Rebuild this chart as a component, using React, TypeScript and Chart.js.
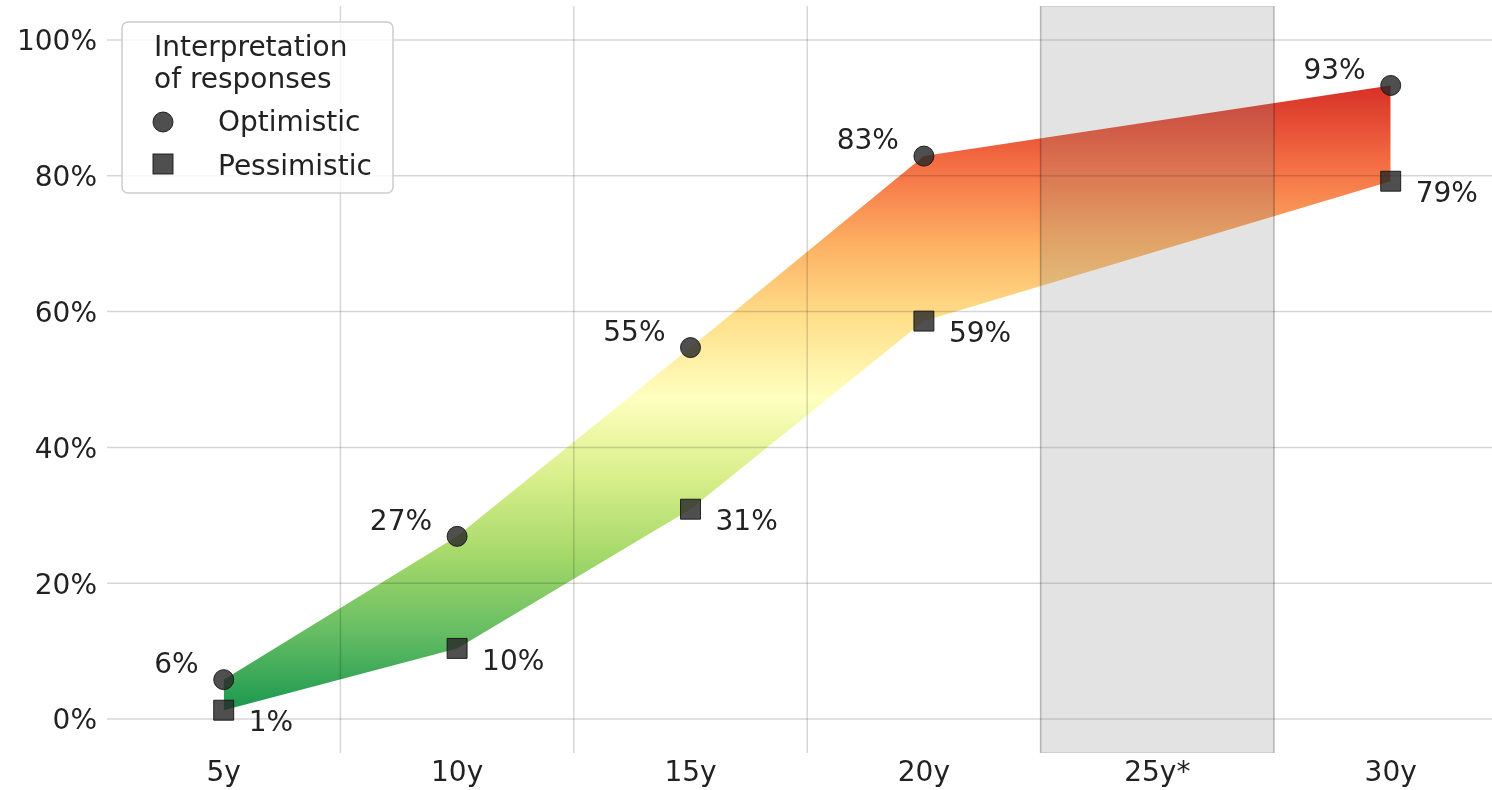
import React, { useEffect, useRef } from 'react';
import { Chart, registerables } from 'chart.js';

Chart.register(...registerables);

// ---- data ----
const categories = ['5y', '10y', '15y', '20y', '25y*', '30y'];
const pointCategories = ['5y', '10y', '15y', '20y', '30y']; // 25y* has no survey value
const optimistic = [5.8, 26.9, 54.7, 82.9, 93.3];
const pessimistic = [1.3, 10.4, 30.9, 58.6, 79.2];
const yTickValues = [0, 20, 40, 60, 80, 100];
const shadedCategory = '25y*';
const seriesNames = ['Optimistic', 'Pessimistic'];
const legendTitle = ['Interpretation', 'of responses'];
const gradientColors = ['#1a9850', '#66bd63', '#a6d96a', '#d9ef8b', '#ffffbf', '#fee08b', '#fdae61', '#f46d43', '#d73027'];

const FONT = '"DejaVu Sans", "Liberation Sans", sans-serif';
const TEXT = '#222222';
const MARK = 'rgba(40,40,40,0.82)';
const MARK_EDGE = 'rgba(20,20,20,0.9)';

const idx = (c: string) => categories.indexOf(c);

const decorPlugin = {
  id: 'decor',
  beforeDatasetsDraw(chart: any) {
    const { ctx, chartArea: ca, scales } = chart;
    const x = scales.x;
    const y = scales.y;
    ctx.save();
    ctx.beginPath();
    ctx.rect(ca.left, ca.top, ca.right - ca.left, ca.bottom - ca.top);
    ctx.clip();
    // grid lines (drawn above fill, like matplotlib)
    ctx.strokeStyle = 'rgba(0,0,0,0.16)';
    ctx.lineWidth = 1.5;
    yTickValues.forEach((v) => {
      const py = y.getPixelForValue(v);
      ctx.beginPath();
      ctx.moveTo(ca.left, py);
      ctx.lineTo(ca.right, py);
      ctx.stroke();
    });
    for (let i = 0; i < categories.length - 1; i++) {
      const px = x.getPixelForValue(i + 0.5);
      ctx.beginPath();
      ctx.moveTo(px, ca.top);
      ctx.lineTo(px, ca.bottom);
      ctx.stroke();
    }
    // shaded band
    const bi = idx(shadedCategory);
    const x0 = x.getPixelForValue(bi - 0.5);
    const x1 = x.getPixelForValue(bi + 0.5);
    ctx.fillStyle = 'rgba(128,128,128,0.22)';
    ctx.fillRect(x0, ca.top, x1 - x0, ca.bottom - ca.top);
    ctx.strokeStyle = 'rgba(0,0,0,0.12)';
    ctx.lineWidth = 1.5;
    ctx.strokeRect(x0, ca.top, x1 - x0, ca.bottom - ca.top);
    ctx.restore();
  },
  afterDatasetsDraw(chart: any) {
    const { ctx, scales } = chart;
    const x = scales.x;
    const y = scales.y;
    ctx.save();
    ctx.font = `28px ${FONT}`;
    ctx.fillStyle = TEXT;
    ctx.textBaseline = 'middle';
    pointCategories.forEach((c, i) => {
      const px = x.getPixelForValue(idx(c));
      ctx.textAlign = 'right';
      ctx.fillText(`${Math.round(optimistic[i])}%`, px - 25, y.getPixelForValue(optimistic[i]) - 14);
      ctx.textAlign = 'left';
      ctx.fillText(`${Math.round(pessimistic[i])}%`, px + 25, y.getPixelForValue(pessimistic[i]) + 14);
    });
    ctx.restore();
  },
  afterDraw(chart: any) {
    const { ctx } = chart;
    ctx.save();
    // legend box
    const bx = 122, by = 22, bw = 271, bh = 171, r = 6;
    ctx.beginPath();
    ctx.moveTo(bx + r, by);
    ctx.arcTo(bx + bw, by, bx + bw, by + bh, r);
    ctx.arcTo(bx + bw, by + bh, bx, by + bh, r);
    ctx.arcTo(bx, by + bh, bx, by, r);
    ctx.arcTo(bx, by, bx + bw, by, r);
    ctx.closePath();
    ctx.fillStyle = 'rgba(255,255,255,0.8)';
    ctx.fill();
    ctx.strokeStyle = 'rgba(200,200,200,0.9)';
    ctx.lineWidth = 1.5;
    ctx.stroke();
    ctx.font = `28px ${FONT}`;
    ctx.fillStyle = TEXT;
    ctx.textAlign = 'left';
    ctx.textBaseline = 'alphabetic';
    ctx.fillText(legendTitle[0], 154, 56);
    ctx.fillText(legendTitle[1], 154, 88);
    // markers
    ctx.fillStyle = MARK;
    ctx.strokeStyle = MARK_EDGE;
    ctx.lineWidth = 1;
    ctx.beginPath();
    ctx.arc(163, 122, 10, 0, Math.PI * 2);
    ctx.fill();
    ctx.stroke();
    ctx.fillRect(153, 154, 20, 20);
    ctx.strokeRect(153, 154, 20, 20);
    ctx.fillStyle = TEXT;
    ctx.fillText(seriesNames[0], 218, 131);
    ctx.fillText(seriesNames[1], 218, 175);
    ctx.restore();
  },
};

function gradientFill(context: any) {
  const chart = context.chart;
  const ca = chart.chartArea;
  if (!ca) return 'rgba(0,0,0,0)';
  const y = chart.scales.y;
  const lo = Math.min(...pessimistic);
  const hi = Math.max(...optimistic);
  const g = chart.ctx.createLinearGradient(0, y.getPixelForValue(lo), 0, y.getPixelForValue(hi));
  gradientColors.forEach((c, i) => g.addColorStop(i / (gradientColors.length - 1), c));
  return g;
}

export default function App() {
  const ref = useRef<HTMLCanvasElement>(null);
  useEffect(() => {
    document.body.style.margin = '0';
    const canvas = ref.current!;
    const toPoints = (vals: number[]) => vals.map((v, i) => ({ x: idx(pointCategories[i]), y: v }));
    const chart = new Chart(canvas, {
      type: 'line',
      data: {
        datasets: [
          {
            label: seriesNames[0],
            data: toPoints(optimistic),
            fill: '+1',
            backgroundColor: gradientFill,
            borderColor: 'rgba(0,0,0,0)',
            borderWidth: 0,
            pointStyle: 'circle',
            pointRadius: 10,
            pointBackgroundColor: MARK,
            pointBorderColor: MARK_EDGE,
            pointBorderWidth: 1,
            tension: 0,
          },
          {
            label: seriesNames[1],
            data: toPoints(pessimistic),
            fill: false,
            borderColor: 'rgba(0,0,0,0)',
            borderWidth: 0,
            pointStyle: 'rect',
            pointRadius: 14.1,
            pointBackgroundColor: MARK,
            pointBorderColor: MARK_EDGE,
            pointBorderWidth: 1,
            tension: 0,
          },
        ],
      },
      options: {
        animation: false,
        responsive: false,
        devicePixelRatio: 1,
        events: [],
        layout: { autoPadding: false, padding: { top: 6, right: 0, left: 0, bottom: 0 } },
        plugins: {
          legend: { display: false },
          tooltip: { enabled: false },
          filler: { drawTime: 'beforeDatasetsDraw' },
        },
        scales: {
          x: {
            type: 'linear',
            min: -0.5,
            max: 5.434,
            grid: { display: false, drawTicks: false },
            border: { display: false },
            afterBuildTicks: (s: any) => {
              s.ticks = categories.map((_, i) => ({ value: i }));
            },
            afterFit: (s: any) => {
              s.height = 37;
              s.paddingLeft = 0;
              s.paddingRight = 0;
            },
            ticks: {
              autoSkip: false,
              maxRotation: 0,
              padding: 4,
              color: TEXT,
              font: { family: FONT, size: 28 },
              callback: (v: any) => categories[Math.round(Number(v))] ?? '',
            },
          },
          y: {
            type: 'linear',
            min: -5,
            max: 105,
            grid: { display: false, drawTicks: false },
            border: { display: false },
            afterBuildTicks: (s: any) => {
              s.ticks = yTickValues.map((v) => ({ value: v }));
            },
            afterFit: (s: any) => {
              s.width = 107;
              s.paddingTop = 0;
              s.paddingBottom = 0;
            },
            ticks: {
              padding: 10,
              labelOffset: 3,
              color: TEXT,
              font: { family: FONT, size: 28 },
              callback: (v: any) => `${v}%`,
            },
          },
        },
      },
      plugins: [decorPlugin],
    } as any);
    return () => chart.destroy();
  }, []);
  return (
    <div style={{ width: 1492, height: 790 }}>
      <canvas ref={ref} width={1492} height={790} style={{ display: 'block' }} />
    </div>
  );
}
